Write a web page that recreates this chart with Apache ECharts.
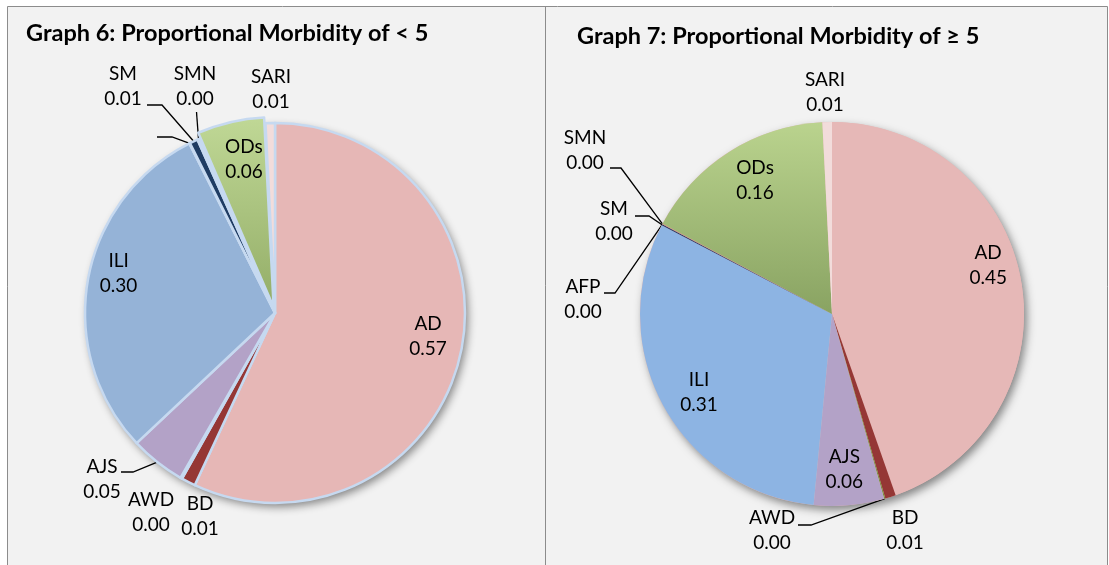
<!DOCTYPE html>
<html><head><meta charset="utf-8">
<script src="https://cdn.jsdelivr.net/npm/echarts@6/dist/echarts.min.js"></script>
<style>html,body{margin:0;padding:0;background:#fff}#c{width:1109px;height:565px}</style>
</head><body><div id="c"></div><script>
// ---------- data ----------
const categories = ['AD', 'BD', 'AWD', 'AJS', 'ILI', 'AFP', 'SM', 'SMN', 'ODs', 'SARI'];
const under5Values = [0.570, 0.012, 0.0015, 0.047, 0.296, 0.0005, 0.007, 0.002, 0.057, 0.008];
const over5Values  = [0.446, 0.009, 0.001, 0.059, 0.311, 0.0, 0.001, 0.0005, 0.164, 0.008];
const chartTitles = ['Graph 6: Proportional Morbidity of < 5', 'Graph 7: Proportional Morbidity of \u2265 5'];

// ---------- styling / layout ----------
const FONT = 'Lato, Carlito, "Open Sans", sans-serif';
const grad = (a, b) => ({ type: 'linear', x: 0, y: 0, x2: 0, y2: 1, colorStops: [{ offset: 0, color: a }, { offset: 1, color: b }] });
const palettes = {
  left:  { AD: '#e6b7b6', BD: '#953735', AWD: '#77933c', AJS: '#b3a2c7', ILI: '#95b3d7', AFP: '#4bacc6', SM: '#1f3c63', SMN: '#e07878', ODs: grad('#c0d896', '#93ad67'), SARI: '#f2dcdb' },
  right: { AD: '#e6b8b7', BD: '#953735', AWD: '#77933c', AJS: '#b3a2c7', ILI: '#8db4e3', AFP: '#4bacc6', SM: '#1f3c63', SMN: '#e07878', ODs: grad('#bad38e', '#89a362'), SARI: '#f2dcdb' }
};
const charts = {
  left: {
    values: under5Values, center: [275, 313], radius: 190, border: 2.5, exploded: { ODs: 6 },
    inside: { AD: [-2, -11], ODs: [5, 1], ILI: [0, -12] },
    outside: {
      SARI: { at: [-4, -224] },
      SMN:  { at: [-80, -227], line: [[-78.5, -201]] },
      SM:   { at: [-152, -227], line: [[-113, -208], [-128, -208]] },
      AFP:  { at: [-130, -176], blank: true, line: [[-103, -176], [-118, -176]] },
      AJS:  { at: [-173, 166], line: [[-142, 159], [-154, 159]] },
      AWD:  { at: [-124, 199] },
      BD:   { at: [-75, 203] }
    }
  },
  right: {
    values: over5Values, center: [832, 314], radius: 192, border: 0, exploded: {},
    inside: { AD: [-2, -22], ODs: [9, 2], ILI: [8, 2], AJS: [-2, -4] },
    outside: {
      SARI: { at: [-7, -222] },
      SMN:  { at: [-247, -164], line: [[-211, -146], [-222, -146]] },
      SM:   { at: [-218, -93], line: [[-183, -98], [-197, -98]] },
      AFP:  { at: [-249, -15], line: [[-217, -21], [-228, -21]] },
      AWD:  { at: [-60, 216], line: [[-21, 211], [-34, 211]] },
      BD:   { at: [73, 216] }
    }
  }
};

const series = [];
['left', 'right'].forEach(function (key) {
  const cfg = charts[key];
  const pal = palettes[key];
  const total = cfg.values.reduce((a, b) => a + b, 0);
  const r = cfg.radius;
  // soft shadow under the whole pie
  series.push({
    type: 'pie', silent: true, center: cfg.center, radius: [0, r], startAngle: 90,
    label: { show: false }, labelLine: { show: false },
    data: [{ value: total, itemStyle: { color: key === 'left' ? '#c6d9f0' : '#e6b8b7', shadowBlur: 8, shadowOffsetX: 3, shadowOffsetY: 4, shadowColor: 'rgba(0,0,0,0.45)' } }]
  });
  // visible slices
  series.push({
    type: 'pie', silent: true, center: cfg.center, radius: [0, r], startAngle: 90,
    selectedMode: 'multiple', selectedOffset: cfg.exploded.ODs || 0,
    label: { show: false }, labelLine: { show: false },
    emphasis: { disabled: true },
    select: { itemStyle: { borderColor: '#c6d9f0', borderWidth: cfg.border } },
    itemStyle: { borderColor: cfg.border ? '#c6d9f0' : 'rgba(0,0,0,0)', borderWidth: cfg.border },
    data: categories.map((name, i) => ({ name: name, value: cfg.values[i], selected: !!cfg.exploded[name], itemStyle: { color: pal[name] } }))
  });
  // label carrier (transparent ring so inside labels sit near the rim)
  series.push({
    type: 'pie', silent: true, center: cfg.center, radius: [r * 0.64, r], startAngle: 90,
    avoidLabelOverlap: false,
    emphasis: { disabled: true },
    itemStyle: { color: 'rgba(0,0,0,0)' },
    label: { color: '#000', fontFamily: FONT, fontSize: 19, lineHeight: 25 },
    labelLine: { lineStyle: { color: '#000', width: 1.3 } },
    data: categories.map(function (name, i) {
      const isInside = !!cfg.inside[name];
      const o = cfg.outside[name] || {};
      return {
        name: name, value: cfg.values[i],
        label: {
          position: isInside ? 'inside' : 'outside',
          formatter: o.blank ? ' ' : (p => p.name + '\n' + p.value.toFixed(2))
        },
        labelLine: { show: !!o.line, length: 10, length2: 10 }
      };
    }),
    labelLayout: function (p) {
      const name = categories[p.dataIndex];
      if (cfg.inside[name]) return { dx: cfg.inside[name][0], dy: cfg.inside[name][1] };
      const o = cfg.outside[name];
      const cx = cfg.center[0], cy = cfg.center[1];
      const res = { x: cx + o.at[0], y: cy + o.at[1], align: 'center', verticalAlign: 'middle' };
      if (o.line && p.labelLinePoints) {
        res.labelLinePoints = [p.labelLinePoints[0]].concat(o.line.map(q => [cx + q[0], cy + q[1]]));
      }
      return res;
    }
  });
});

const chart = echarts.init(document.getElementById('c'), null, { renderer: 'canvas' });
chart.setOption({
  backgroundColor: '#ffffff',
  animation: false,
  graphic: [
    { type: 'rect', z: -10, shape: { x: 7.5, y: 6.5, width: 1100, height: 600 }, style: { fill: '#f2f2f2', stroke: '#8c8c8c', lineWidth: 1 } },
    { type: 'line', z: -9, shape: { x1: 545.5, y1: 6.5, x2: 545.5, y2: 565 }, style: { stroke: '#8c8c8c', lineWidth: 1 } }
  ],
  title: [
    { text: chartTitles[0], left: 26, top: 21, padding: 0, textStyle: { fontFamily: FONT, fontWeight: 'bold', fontSize: 23.5, color: '#000' } },
    { text: chartTitles[1], left: 577, top: 24, padding: 0, textStyle: { fontFamily: FONT, fontWeight: 'bold', fontSize: 23.5, color: '#000' } }
  ],
  series: series
});
</script></body></html>
